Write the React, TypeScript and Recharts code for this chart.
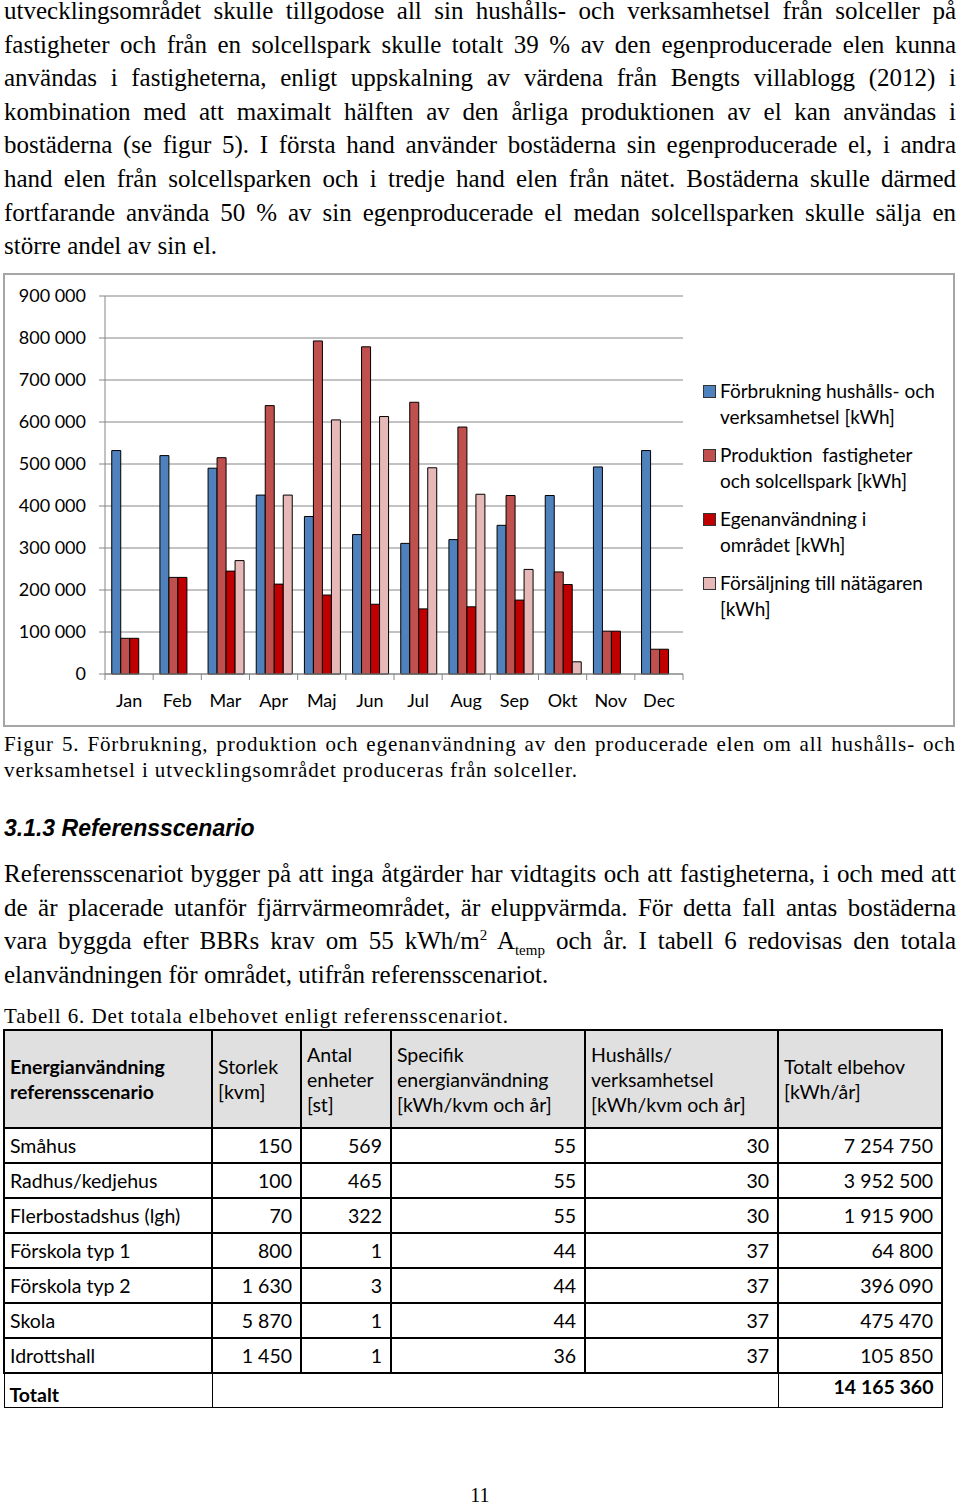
import React from 'react';
import { BarChart, Bar, XAxis, YAxis, CartesianGrid } from 'recharts';

// Månader och serier (kWh), avlästa ur figur 5
const months = ['Jan', 'Feb', 'Mar', 'Apr', 'Maj', 'Jun', 'Jul', 'Aug', 'Sep', 'Okt', 'Nov', 'Dec'];
const forbrukning = [532000, 520000, 490000, 426000, 375000, 332000, 311000, 320000, 354000, 425000, 493000, 532000];
const produktion = [85000, 230000, 515000, 639000, 793000, 779000, 647000, 588000, 425000, 243000, 102000, 59000];
const egenanvandning = [85000, 230000, 245000, 214000, 188000, 166000, 155000, 160000, 176000, 213000, 102000, 59000];
const forsaljning = [0, 0, 270000, 426000, 605000, 613000, 491000, 428000, 249000, 29000, 0, 0];
const yTicks = [0, 100000, 200000, 300000, 400000, 500000, 600000, 700000, 800000, 900000];

const seriesNames = [
  'Förbrukning hushålls- och verksamhetsel [kWh]',
  'Produktion  fastigheter och solcellspark [kWh]',
  'Egenanvändning i området [kWh]',
  'Försäljning till nätägaren [kWh]'
];
const legendLines = [
  ['Förbrukning hushålls- och', 'verksamhetsel [kWh]'],
  ['Produktion\u00a0 fastigheter', 'och solcellspark [kWh]'],
  ['Egenanvändning i', 'området [kWh]'],
  ['Försäljning till nätägaren', '[kWh]']
];
const seriesColors = ['#4f81bd', '#c0504d', '#c00000', '#e6b9b8'];

// Tabell 6
const tableHeaders = [
  ['Energianvändning', 'referensscenario'],
  ['Storlek', '[kvm]'],
  ['Antal', 'enheter', '[st]'],
  ['Specifik', 'energianvändning', '[kWh/kvm och år]'],
  ['Hushålls/', 'verksamhetsel', '[kWh/kvm och år]'],
  ['Totalt elbehov', '[kWh/år]']
];
const rowNames = ['Småhus', 'Radhus/kedjehus', 'Flerbostadshus (lgh)', 'Förskola typ 1', 'Förskola typ 2', 'Skola', 'Idrottshall'];
const storlek = ['150', '100', '70', '800', '1 630', '5 870', '1 450'];
const antal = ['569', '465', '322', '1', '3', '1', '1'];
const specifik = ['55', '55', '55', '44', '44', '44', '36'];
const hushall = ['30', '30', '30', '37', '37', '37', '37'];
const totalt = ['7 254 750', '3 952 500', '1 915 900', '64 800', '396 090', '475 470', '105 850'];
const totaltSumma = '14 165 360';
const colWidths = [208, 89, 90, 194, 193, 164];

const para1 = [
  'utvecklingsområdet skulle tillgodose all sin hushålls- och verksamhetsel från solceller på',
  'fastigheter och från en solcellspark skulle totalt 39 % av den egenproducerade elen kunna',
  'användas i fastigheterna, enligt uppskalning av värdena från Bengts villablogg (2012) i',
  'kombination med att maximalt hälften av den årliga produktionen av el kan användas i',
  'bostäderna (se figur 5). I första hand använder bostäderna sin egenproducerade el, i andra',
  'hand elen från solcellsparken och i tredje hand elen från nätet. Bostäderna skulle därmed',
  'fortfarande använda 50 % av sin egenproducerade el medan solcellsparken skulle sälja en',
  'större andel av sin el.'
];
const caption = [
  'Figur 5. Förbrukning, produktion och egenanvändning av den producerade elen om all hushålls- och',
  'verksamhetsel i utvecklingsområdet produceras från solceller.'
];

const data = months.map((m, i) => ({
  month: m,
  forbrukning: forbrukning[i],
  produktion: produktion[i],
  egen: egenanvandning[i],
  salj: forsaljning[i]
}));
const keys = ['forbrukning', 'produktion', 'egen', 'salj'];

const CHART_W = 952;
const CHART_H = 454;
const MARGIN = { top: 23, right: 272, bottom: 13, left: 12 };
const PLOT_W = CHART_W - MARGIN.left - 90 - MARGIN.right;

const SERIF = '"Liberation Serif", "Times New Roman", serif';
const SANS = 'Lato, "Noto Sans", sans-serif';
const BODY = 25;

const fmt = (v: number) => String(v).replace(/\B(?=(\d{3})+(?!\d))/g, ' ');

// tick med streck vid kategorigränserna, som i Excel
// eslint-disable-next-line @typescript-eslint/no-explicit-any
const MonthTick = (props: any) => {
  const { x, y, payload, index } = props;
  const band = PLOT_W / months.length;
  const axisY = y - 6;
  return (
    <g>
      <line x1={x - band / 2} x2={x - band / 2} y1={axisY} y2={axisY + 6} stroke="#868686" />
      {index === months.length - 1 && (
        <line x1={x + band / 2} x2={x + band / 2} y1={axisY} y2={axisY + 6} stroke="#868686" />
      )}
      <text x={x} y={axisY + 33} textAnchor="middle" fill="#000" fontSize={18} fontFamily={SANS}>
        {payload.value}
      </text>
    </g>
  );
};

const Line = ({ text, top, size, lh, last, ls }: { text: string; top: number; size: number; lh: number; last?: boolean; ls?: number }) => (
  <div
    style={{
      position: 'absolute',
      left: 4,
      width: 952,
      top,
      height: lh,
      lineHeight: `${lh}px`,
      fontSize: size,
      fontFamily: SERIF,
      letterSpacing: ls || 0,
      textAlign: 'justify',
      textAlignLast: last ? 'left' : 'justify',
      whiteSpace: 'nowrap'
    }}
  >
    {text}
  </div>
);

const cellBase: React.CSSProperties = {
  border: '2px solid #000',
  padding: '0 8px 0 5px',
  fontFamily: SANS,
  fontSize: 19.5,
  lineHeight: '25px',
  color: '#000'
};

export default function App() {
  return (
    <div style={{ position: 'relative', width: 960, height: 1505, background: '#fff', color: '#000' }}>
      <style>{'body{margin:0}'}</style>

      {para1.map((t, i) => (
        <Line key={i} text={t} top={-6 + i * 33.6} size={BODY} lh={33.6} last={i === para1.length - 1} />
      ))}

      {/* Figur 5 */}
      <div
        style={{
          position: 'absolute',
          left: 3,
          top: 273,
          width: 952,
          height: 454,
          border: '2px solid #a6a6a6',
          boxSizing: 'border-box'
        }}
      />
      <div style={{ position: 'absolute', left: 3, top: 273 }}>
        <BarChart width={CHART_W} height={CHART_H} data={data} margin={MARGIN} barCategoryGap="14%" barGap={0}>
          <CartesianGrid vertical={false} stroke="#868686" strokeWidth={1} />
          <XAxis
            dataKey="month"
            axisLine={{ stroke: '#868686' }}
            tickLine={false}
            tickSize={6}
            tickMargin={0}
            interval={0}
            height={40}
            tick={<MonthTick />}
          />
          <YAxis
            width={90}
            domain={[0, 900000]}
            ticks={yTicks}
            tickFormatter={fmt}
            axisLine={{ stroke: '#868686' }}
            tickLine={{ stroke: '#868686' }}
            tickSize={6}
            tickMargin={13}
            tick={{ fill: '#000', fontSize: 18, fontFamily: SANS }}
          />
          {keys.map((k, i) => (
            <Bar
              key={k}
              dataKey={k}
              name={seriesNames[i]}
              fill={seriesColors[i]}
              stroke="#000"
              strokeWidth={1}
              isAnimationActive={false}
            />
          ))}
        </BarChart>
      </div>
      <div style={{ position: 'absolute', left: 703, top: 378, fontFamily: SANS, fontSize: 19, lineHeight: '26px' }}>
        {legendLines.map((lines, i) => (
          <div key={i} style={{ position: 'relative', paddingLeft: 17, marginBottom: 12 }}>
            <span
              style={{
                position: 'absolute',
                left: 0,
                top: 7,
                width: 11,
                height: 11,
                background: seriesColors[i],
                border: '1px solid #333'
              }}
            />
            {lines.map((l, j) => (
              <div key={j} style={{ whiteSpace: 'pre' }}>{l}</div>
            ))}
          </div>
        ))}
      </div>

      {caption.map((t, i) => (
        <Line key={i} text={t} top={731 + i * 26} size={21} lh={26} ls={0.9} last={i === caption.length - 1} />
      ))}

      <div
        style={{
          position: 'absolute',
          left: 4,
          top: 813,
          lineHeight: '30px',
          fontSize: 23,
          fontFamily: '"Liberation Sans", Arial, sans-serif',
          fontWeight: 'bold',
          fontStyle: 'italic'
        }}
      >
        3.1.3 Referensscenario
      </div>

      <Line text="Referensscenariot bygger på att inga åtgärder har vidtagits och att fastigheterna, i och med att" top={857} size={BODY} lh={33.6} />
      <Line text="de är placerade utanför fjärrvärmeområdet, är eluppvärmda. För detta fall antas bostäderna" top={890.6} size={BODY} lh={33.6} />
      <div
        style={{
          position: 'absolute',
          left: 4,
          width: 952,
          top: 924.2,
          height: 33.6,
          lineHeight: '33.6px',
          fontSize: BODY,
          fontFamily: SERIF,
          textAlign: 'justify',
          textAlignLast: 'justify',
          whiteSpace: 'nowrap'
        }}
      >
        vara byggda efter BBRs krav om 55 kWh/m
        <sup style={{ fontSize: 15, lineHeight: 0 }}>2</sup> A
        <sub style={{ fontSize: 15, lineHeight: 0 }}>temp</sub> och år. I tabell 6 redovisas den totala
      </div>
      <Line text="elanvändningen för området, utifrån referensscenariot." top={957.8} size={BODY} lh={33.6} last />

      <div
        style={{
          position: 'absolute',
          left: 4,
          top: 1003,
          fontSize: 21,
          letterSpacing: 0.9,
          lineHeight: '26px',
          fontFamily: SERIF,
          whiteSpace: 'nowrap'
        }}
      >
        Tabell 6. Det totala elbehovet enligt referensscenariot.
      </div>

      {/* Tabell 6 */}
      <table
        style={{
          position: 'absolute',
          left: 3,
          top: 1029,
          borderCollapse: 'collapse',
          tableLayout: 'fixed',
          width: 938
        }}
      >
        <colgroup>
          {colWidths.map((w, i) => (
            <col key={i} style={{ width: w }} />
          ))}
        </colgroup>
        <tbody>
          <tr style={{ height: 98, background: '#e0e0e0' }}>
            {tableHeaders.map((lines, i) => (
              <td key={i} style={{ ...cellBase, verticalAlign: 'middle', fontWeight: i === 0 ? 'bold' : 'normal' }}>
                {lines.map((l, j) => (
                  <div key={j} style={{ whiteSpace: 'nowrap' }}>{l}</div>
                ))}
              </td>
            ))}
          </tr>
          {rowNames.map((name, r) => (
            <tr key={name} style={{ height: 35 }}>
              <td style={cellBase}>{name}</td>
              <td style={{ ...cellBase, textAlign: 'right' }}>{storlek[r]}</td>
              <td style={{ ...cellBase, textAlign: 'right' }}>{antal[r]}</td>
              <td style={{ ...cellBase, textAlign: 'right' }}>{specifik[r]}</td>
              <td style={{ ...cellBase, textAlign: 'right' }}>{hushall[r]}</td>
              <td style={{ ...cellBase, textAlign: 'right' }}>{totalt[r]}</td>
            </tr>
          ))}
          <tr style={{ height: 34 }}>
            <td style={{ ...cellBase, border: '1px solid #000', fontWeight: 'bold', verticalAlign: 'bottom' }}>Totalt</td>
            <td colSpan={4} style={{ ...cellBase, border: '1px solid #000' }} />
            <td style={{ ...cellBase, border: '1px solid #000', textAlign: 'right', fontWeight: 'bold', verticalAlign: 'top' }}>
              {totaltSumma}
            </td>
          </tr>
        </tbody>
      </table>

      <div style={{ position: 'absolute', left: 0, width: 960, top: 1484, textAlign: 'center', fontSize: 20, fontFamily: SERIF }}>
        11
      </div>
    </div>
  );
}
